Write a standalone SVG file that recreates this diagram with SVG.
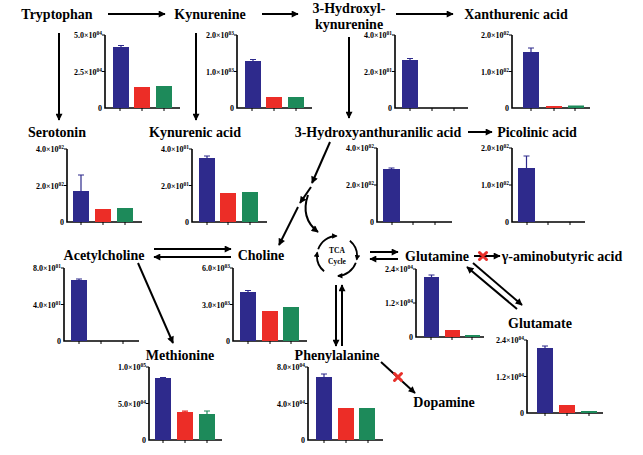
<svg xmlns="http://www.w3.org/2000/svg" width="643" height="455" viewBox="0 0 643 455">
<defs>
<style>
.lbl{font-family:"Liberation Serif",serif;font-weight:bold;font-size:14px;fill:#000}
.ax{font-family:"Liberation Serif",serif;font-weight:bold;font-size:8px;fill:#000;text-anchor:end}
.sup{font-size:5.5px}
.tca{font-family:"Liberation Serif",serif;font-weight:bold;font-size:7.5px;fill:#000;text-anchor:middle}
.axis{stroke:#000;stroke-width:1.6;fill:none}
.tick{stroke:#000;stroke-width:1;fill:none}
.b{fill:#2e2a8c}
.r{fill:#ec2d27}
.g{fill:#1d8a5a}
.eb{stroke:#2e2a8c;stroke-width:1.2;fill:none}
.ebr{stroke:#ec2d27;stroke-width:1.2;fill:none}
.ebg{stroke:#1d8a5a;stroke-width:1.2;fill:none}
.arr{stroke:#000;stroke-width:2;fill:none;marker-end:url(#ah)}
.x{stroke:#e8302a;stroke-width:3;stroke-linecap:round}
</style>
<marker id="ah" viewBox="0 0 10 10" refX="9" refY="5" markerWidth="8" markerHeight="7" markerUnits="userSpaceOnUse" orient="auto">
<path d="M0,0 L10,5 L0,10 z" fill="#000"/>
</marker>
<marker id="ahs" viewBox="0 0 10 10" refX="8" refY="5" markerWidth="6" markerHeight="5.5" markerUnits="userSpaceOnUse" orient="auto">
<path d="M0,0 L10,5 L0,10 z" fill="#000"/>
</marker>
</defs>
<rect width="643" height="455" fill="#fff"/>

<g id="tryptophan">
<text class="lbl" x="57" y="19" text-anchor="middle">Tryptophan</text>
<g transform="translate(105,108)">
<path class="axis" d="M0,-73 V0 H75"/>
<path class="tick" d="M-3,-73H0M-3,-36.5H0M15,0v3M37,0v3M59,0v3"/>
<text class="ax" x="-3" y="-70">5.0×10<tspan class="sup" dy="-3">04</tspan></text>
<text class="ax" x="-3" y="-33.5">2.5×10<tspan class="sup" dy="-3">04</tspan></text>
<text class="ax" x="-3" y="3">0</text>
<rect class="b" x="8" y="-61" width="16" height="61"/>
<path class="eb" d="M16,-61V-62.5M13,-62.5H19"/>
<rect class="r" x="29" y="-21" width="16" height="21"/>
<rect class="g" x="51" y="-22" width="16" height="22"/>
</g>
</g>

<g id="kynurenine">
<text class="lbl" x="210" y="19" text-anchor="middle">Kynurenine</text>
<g transform="translate(237,108)">
<path class="axis" d="M0,-73 V0 H75"/>
<path class="tick" d="M-3,-73H0M-3,-36.5H0M15,0v3M37,0v3M59,0v3"/>
<text class="ax" x="-3" y="-70">2.0×10<tspan class="sup" dy="-3">03</tspan></text>
<text class="ax" x="-3" y="-33.5">1.0×10<tspan class="sup" dy="-3">03</tspan></text>
<text class="ax" x="-3" y="3">0</text>
<rect class="b" x="8" y="-47" width="16" height="47"/>
<path class="eb" d="M16,-47V-48.5M13,-48.5H19"/>
<rect class="r" x="29" y="-11" width="16" height="11"/>
<rect class="g" x="51" y="-11" width="16" height="11"/>
</g>
</g>

<g id="hydroxykynurenine">
<text class="lbl" x="349" y="13" text-anchor="middle">3-Hydroxyl-</text>
<text class="lbl" x="349" y="29" text-anchor="middle">kynurenine</text>
<g transform="translate(395,108)">
<path class="axis" d="M0,-73 V0 H73"/>
<path class="tick" d="M-3,-73H0M-3,-36.5H0M15,0v3M37,0v3M59,0v3"/>
<text class="ax" x="-3" y="-70">4.0×10<tspan class="sup" dy="-3">01</tspan></text>
<text class="ax" x="-3" y="-33.5">2.0×10<tspan class="sup" dy="-3">01</tspan></text>
<text class="ax" x="-3" y="3">0</text>
<rect class="b" x="7" y="-48" width="16" height="48"/>
<path class="eb" d="M15,-48V-49.5M12,-49.5H18"/>
</g>
</g>

<g id="xanthurenic">
<text class="lbl" x="516" y="19" text-anchor="middle">Xanthurenic acid</text>
<g transform="translate(512,108)">
<path class="axis" d="M0,-73 V0 H78"/>
<path class="tick" d="M-3,-73H0M-3,-36.5H0M19,0v3M42,0v3M63,0v3"/>
<text class="ax" x="-3" y="-70">2.0×10<tspan class="sup" dy="-3">02</tspan></text>
<text class="ax" x="-3" y="-33.5">1.0×10<tspan class="sup" dy="-3">02</tspan></text>
<text class="ax" x="-3" y="3">0</text>
<rect class="b" x="11" y="-56" width="16" height="56"/>
<path class="eb" d="M19,-56V-60M16,-60H22"/>
<rect class="r" x="34" y="-2" width="16" height="2"/>
<rect class="g" x="56" y="-2.5" width="16" height="2.5"/>
</g>
</g>

<g id="serotonin">
<text class="lbl" x="57" y="137" text-anchor="middle">Serotonin</text>
<g transform="translate(67,222)">
<path class="axis" d="M0,-73 V0 H75"/>
<path class="tick" d="M-3,-73H0M-3,-36.5H0M14,0v3M36,0v3M58,0v3"/>
<text class="ax" x="-3" y="-70">4.0×10<tspan class="sup" dy="-3">02</tspan></text>
<text class="ax" x="-3" y="-33.5">2.0×10<tspan class="sup" dy="-3">02</tspan></text>
<text class="ax" x="-3" y="3">0</text>
<rect class="b" x="6" y="-31" width="16" height="31"/>
<path class="eb" d="M14,-31V-47M11,-47H17"/>
<rect class="r" x="28" y="-13" width="16" height="13"/>
<rect class="g" x="50" y="-14" width="16" height="14"/>
</g>
</g>

<g id="kynurenic">
<text class="lbl" x="195" y="137" text-anchor="middle">Kynurenic acid</text>
<g transform="translate(192,222)">
<path class="axis" d="M0,-73 V0 H75"/>
<path class="tick" d="M-3,-73H0M-3,-36.5H0M15,0v3M36,0v3M58,0v3"/>
<text class="ax" x="-3" y="-70">4.0×10<tspan class="sup" dy="-3">01</tspan></text>
<text class="ax" x="-3" y="-33.5">2.0×10<tspan class="sup" dy="-3">01</tspan></text>
<text class="ax" x="-3" y="3">0</text>
<rect class="b" x="7" y="-64" width="16" height="64"/>
<path class="eb" d="M15,-64V-66M12,-66H18"/>
<rect class="r" x="28" y="-29" width="16" height="29"/>
<rect class="g" x="50" y="-30" width="16" height="30"/>
</g>
</g>

<g id="hydroxyanthranilic">
<text class="lbl" x="378" y="137" text-anchor="middle">3-Hydroxyanthuranilic acid</text>
<g transform="translate(377,222)">
<path class="axis" d="M0,-74 V0 H75"/>
<path class="tick" d="M-3,-74H0M-3,-37H0M15,0v3M36,0v3M58,0v3"/>
<text class="ax" x="-3" y="-71">4.0×10<tspan class="sup" dy="-3">02</tspan></text>
<text class="ax" x="-3" y="-34">2.0×10<tspan class="sup" dy="-3">02</tspan></text>
<text class="ax" x="-3" y="3">0</text>
<rect class="b" x="6" y="-53" width="17" height="53"/>
<path class="eb" d="M14.5,-53V-54M11.5,-54H17.5"/>
</g>
</g>

<g id="picolinic">
<text class="lbl" x="537" y="137" text-anchor="middle">Picolinic acid</text>
<g transform="translate(512,222)">
<path class="axis" d="M0,-74 V0 H73"/>
<path class="tick" d="M-3,-74H0M-3,-37H0M15,0v3M36,0v3M58,0v3"/>
<text class="ax" x="-3" y="-71">2.0×10<tspan class="sup" dy="-3">02</tspan></text>
<text class="ax" x="-3" y="-34">1.0×10<tspan class="sup" dy="-3">02</tspan></text>
<text class="ax" x="-3" y="3">0</text>
<rect class="b" x="6" y="-54" width="17" height="54"/>
<path class="eb" d="M14.5,-54V-66M11.5,-66H17.5"/>
</g>
</g>

<g id="acetylcholine">
<text class="lbl" x="104" y="260" text-anchor="middle">Acetylcholine</text>
<g transform="translate(64,341)">
<path class="axis" d="M0,-73 V0 H75"/>
<path class="tick" d="M-3,-73H0M-3,-36.5H0M15,0v3M37,0v3M59,0v3"/>
<text class="ax" x="-3" y="-70">8.0×10<tspan class="sup" dy="-3">01</tspan></text>
<text class="ax" x="-3" y="-33.5">4.0×10<tspan class="sup" dy="-3">01</tspan></text>
<text class="ax" x="-3" y="3">0</text>
<rect class="b" x="7" y="-61" width="16" height="61"/>
<path class="eb" d="M15,-61V-62M12,-62H18"/>
</g>
</g>

<g id="choline">
<text class="lbl" x="261" y="260" text-anchor="middle">Choline</text>
<g transform="translate(233,341)">
<path class="axis" d="M0,-73 V0 H74"/>
<path class="tick" d="M-3,-73H0M-3,-36.5H0M15,0v3M37,0v3M58,0v3"/>
<text class="ax" x="-3" y="-70">6.0×10<tspan class="sup" dy="-3">03</tspan></text>
<text class="ax" x="-3" y="-33.5">3.0×10<tspan class="sup" dy="-3">03</tspan></text>
<text class="ax" x="-3" y="3">0</text>
<rect class="b" x="7" y="-49" width="16" height="49"/>
<path class="eb" d="M15,-49V-50.5M12,-50.5H18"/>
<rect class="r" x="29" y="-30" width="16" height="30"/>
<rect class="g" x="50" y="-34" width="16" height="34"/>
</g>
</g>

<g id="tca">
<path d="M318.2,249.2 A20,20 0 0 1 336.5,236" fill="none" stroke="#000" stroke-width="1.8" marker-end="url(#ahs)"/>
<path d="M349.9,240.7 A20,20 0 0 1 356.7,259.5" fill="none" stroke="#000" stroke-width="1.8" marker-end="url(#ahs)"/>
<path d="M355.8,262.8 A20,20 0 0 1 338,276" fill="none" stroke="#000" stroke-width="1.8" marker-end="url(#ahs)"/>
<path d="M324.1,271.3 A20,20 0 0 1 317.3,252.5" fill="none" stroke="#000" stroke-width="1.8" marker-end="url(#ahs)"/>
<text class="tca" x="337" y="253">TCA</text>
<text class="tca" x="337" y="264">Cycle</text>
</g>

<g id="glutamine">
<text class="lbl" x="437" y="261" text-anchor="middle">Glutamine</text>
<g transform="translate(416,337)">
<path class="axis" d="M0,-68 V0 H68"/>
<path class="tick" d="M-3,-68H0M-3,-34H0M15,0v3M36,0v3M56,0v3"/>
<text class="ax" x="-3" y="-65">2.4×10<tspan class="sup" dy="-3">04</tspan></text>
<text class="ax" x="-3" y="-31">1.2×10<tspan class="sup" dy="-3">04</tspan></text>
<text class="ax" x="-3" y="3">0</text>
<rect class="b" x="8" y="-60" width="15" height="60"/>
<path class="eb" d="M15.5,-60V-62M12.5,-62H18.5"/>
<rect class="r" x="29" y="-7" width="15" height="7"/>
<rect class="g" x="49" y="-2" width="15" height="2"/>
</g>
</g>

<g id="gaba">
<text class="lbl" x="562" y="261" text-anchor="middle">γ-aminobutyric acid</text>
</g>

<g id="glutamate">
<text class="lbl" x="540" y="328" text-anchor="middle">Glutamate</text>
<g transform="translate(527,413)">
<path class="axis" d="M0,-73 V0 H76"/>
<path class="tick" d="M-3,-73H0M-3,-36.5H0M18,0v3M40,0v3M62,0v3"/>
<text class="ax" x="-3" y="-70">2.4×10<tspan class="sup" dy="-3">04</tspan></text>
<text class="ax" x="-3" y="-33.5">1.2×10<tspan class="sup" dy="-3">04</tspan></text>
<text class="ax" x="-3" y="3">0</text>
<rect class="b" x="10" y="-65" width="16" height="65"/>
<path class="eb" d="M18,-65V-67M15,-67H21"/>
<rect class="r" x="32" y="-8" width="16" height="8"/>
<rect class="g" x="54" y="-2" width="16" height="2"/>
</g>
</g>

<g id="methionine">
<text class="lbl" x="180" y="360" text-anchor="middle">Methionine</text>
<g transform="translate(149,440)">
<path class="axis" d="M0,-73 V0 H73"/>
<path class="tick" d="M-3,-73H0M-3,-36.5H0M14,0v3M36,0v3M58,0v3"/>
<text class="ax" x="-3" y="-70">1.0×10<tspan class="sup" dy="-3">05</tspan></text>
<text class="ax" x="-3" y="-33.5">5.0×10<tspan class="sup" dy="-3">04</tspan></text>
<text class="ax" x="-3" y="3">0</text>
<rect class="b" x="6" y="-62" width="16" height="62"/>
<path class="eb" d="M14,-62V-62.5M11,-62.5H17"/>
<rect class="r" x="28" y="-28" width="16" height="28"/>
<path class="ebr" d="M36,-28V-28.8M33,-28.8H39"/>
<rect class="g" x="50" y="-26" width="16" height="26"/>
<path class="ebg" d="M58,-26V-29M55,-29H61"/>
</g>
</g>

<g id="phenylalanine">
<text class="lbl" x="337" y="360" text-anchor="middle">Phenylalanine</text>
<g transform="translate(308,440)">
<path class="axis" d="M0,-73 V0 H75"/>
<path class="tick" d="M-3,-73H0M-3,-36.5H0M16,0v3M38,0v3M60,0v3"/>
<text class="ax" x="-3" y="-70">8.0×10<tspan class="sup" dy="-3">04</tspan></text>
<text class="ax" x="-3" y="-33.5">4.0×10<tspan class="sup" dy="-3">04</tspan></text>
<text class="ax" x="-3" y="3">0</text>
<rect class="b" x="8" y="-63" width="16" height="63"/>
<path class="eb" d="M16,-63V-66M13,-66H19"/>
<rect class="r" x="30" y="-32" width="16" height="32"/>
<rect class="g" x="51" y="-32" width="16" height="32"/>
</g>
</g>

<g id="dopamine">
<text class="lbl" x="444" y="407" text-anchor="middle">Dopamine</text>
</g>

<g id="connectors">
<line class="arr" x1="108" y1="14" x2="165" y2="14"/>
<line class="arr" x1="262" y1="14" x2="298" y2="14"/>
<line class="arr" x1="396" y1="14" x2="453" y2="14"/>
<line class="arr" x1="59" y1="33" x2="59" y2="120"/>
<line class="arr" x1="196" y1="33" x2="196" y2="120"/>
<line class="arr" x1="349" y1="37" x2="349" y2="118"/>
<line class="arr" x1="468" y1="132" x2="492" y2="132"/>
<line class="arr" x1="330" y1="142" x2="312" y2="183"/>
<line class="arr" x1="311" y1="187" x2="300" y2="203"/>
<line class="arr" x1="298" y1="207" x2="279" y2="245"/>
<path class="arr" d="M308,195 Q300,218 318,232"/>
<line class="arr" x1="154" y1="249" x2="231" y2="249"/>
<line class="arr" x1="231" y1="257" x2="154" y2="257"/>
<line class="arr" x1="138" y1="263" x2="173" y2="343"/>
<line class="arr" x1="370" y1="252" x2="398" y2="252"/>
<line class="arr" x1="398" y1="259" x2="370" y2="259"/>
<line class="arr" x1="336" y1="285" x2="336" y2="346"/>
<line class="arr" x1="342" y1="346" x2="342" y2="285"/>
<line class="arr" x1="474" y1="256" x2="500" y2="256"/>
<line class="arr" x1="473" y1="263" x2="522" y2="305"/>
<line class="arr" x1="517" y1="309" x2="467" y2="267"/>
<line class="arr" x1="381" y1="362" x2="415" y2="393"/>
<path class="x" d="M479.5,252.5 L486.5,259.5 M486.5,252.5 L479.5,259.5"/>
<path class="x" d="M394.5,373.5 L401.5,380.5 M401.5,373.5 L394.5,380.5"/>
</g>
</svg>
